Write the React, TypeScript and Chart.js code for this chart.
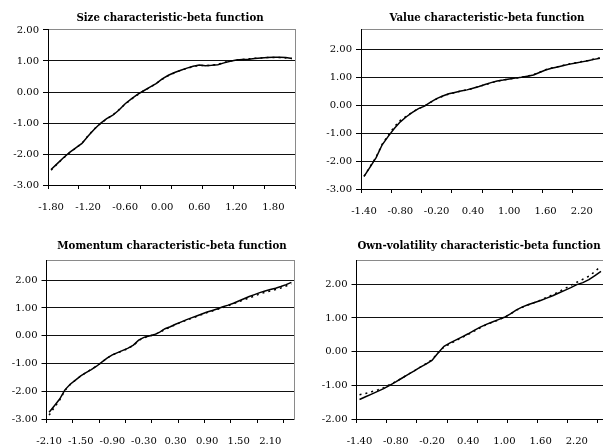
import { useEffect, useRef } from "react";
import { Chart, registerables } from "chart.js";

Chart.register(...registerables);

// ---------- data ----------
const sizeCategories = ["-1.80","-1.70","-1.60","-1.50","-1.40","-1.30","-1.20","-1.10","-1.00","-0.90","-0.80","-0.70","-0.60","-0.50","-0.40","-0.30","-0.20","-0.10","0.00","0.10","0.20","0.30","0.40","0.50","0.60","0.70","0.80","0.90","1.00","1.10","1.20","1.30","1.40","1.50","1.60","1.70","1.80","1.90","2.00","2.10"];
const sizeSolid = [-2.50,-2.31,-2.12,-1.95,-1.80,-1.66,-1.42,-1.20,-1.01,-0.86,-0.75,-0.58,-0.38,-0.22,-0.08,0.04,0.16,0.27,0.42,0.54,0.63,0.70,0.77,0.83,0.87,0.85,0.86,0.88,0.94,0.99,1.03,1.05,1.06,1.08,1.10,1.11,1.12,1.12,1.11,1.08];
const sizeDotted = [-2.52,-2.32,-2.13,-1.96,-1.81,-1.65,-1.41,-1.19,-1.02,-0.87,-0.74,-0.57,-0.39,-0.23,-0.09,0.04,0.15,0.27,0.41,0.53,0.62,0.70,0.76,0.82,0.86,0.85,0.86,0.89,0.95,1.00,1.03,1.05,1.07,1.09,1.10,1.11,1.11,1.11,1.10,1.08];

const valueCategories = ["-1.40","-1.30","-1.20","-1.10","-1.00","-0.90","-0.80","-0.70","-0.60","-0.50","-0.40","-0.30","-0.20","-0.10","0.00","0.10","0.20","0.30","0.40","0.50","0.60","0.70","0.80","0.90","1.00","1.10","1.20","1.30","1.40","1.50","1.60","1.70","1.80","1.90","2.00","2.10","2.20","2.30","2.40","2.50"];
const valueSolid = [-2.55,-2.22,-1.88,-1.42,-1.12,-0.84,-0.60,-0.42,-0.26,-0.13,-0.04,0.10,0.23,0.32,0.40,0.45,0.50,0.54,0.60,0.66,0.73,0.80,0.86,0.89,0.93,0.96,0.99,1.03,1.07,1.16,1.25,1.31,1.36,1.41,1.46,1.50,1.54,1.58,1.63,1.67];
const valueDotted = [-2.55,-2.20,-1.86,-1.40,-1.08,-0.78,-0.55,-0.40,-0.25,-0.13,-0.04,0.09,0.22,0.31,0.39,0.44,0.50,0.54,0.59,0.66,0.72,0.79,0.85,0.89,0.93,0.96,0.99,1.03,1.08,1.17,1.26,1.32,1.37,1.42,1.47,1.51,1.55,1.59,1.64,1.68];

const momentumCategories = ["-2.10","-2.00","-1.90","-1.80","-1.70","-1.60","-1.50","-1.40","-1.30","-1.20","-1.10","-1.00","-0.90","-0.80","-0.70","-0.60","-0.50","-0.40","-0.30","-0.20","-0.10","0.00","0.10","0.20","0.30","0.40","0.50","0.60","0.70","0.80","0.90","1.00","1.10","1.20","1.30","1.40","1.50","1.60","1.70","1.80","1.90","2.00","2.10","2.20","2.30","2.40","2.50"];
const momentumSolid = [-2.76,-2.52,-2.28,-1.95,-1.75,-1.60,-1.45,-1.33,-1.22,-1.10,-0.95,-0.81,-0.69,-0.61,-0.53,-0.45,-0.34,-0.16,-0.06,-0.01,0.04,0.13,0.25,0.32,0.41,0.49,0.57,0.64,0.71,0.78,0.85,0.91,0.97,1.04,1.10,1.17,1.25,1.33,1.41,1.48,1.55,1.61,1.66,1.71,1.77,1.84,1.92];
const momentumDotted = [-2.86,-2.58,-2.32,-1.97,-1.76,-1.60,-1.45,-1.33,-1.21,-1.09,-0.95,-0.81,-0.69,-0.62,-0.54,-0.46,-0.35,-0.18,-0.07,-0.02,0.04,0.12,0.23,0.31,0.40,0.48,0.55,0.62,0.69,0.76,0.83,0.89,0.95,1.01,1.08,1.15,1.22,1.29,1.36,1.43,1.50,1.56,1.61,1.66,1.72,1.79,1.86];

const volCategories = ["-1.40","-1.30","-1.20","-1.10","-1.00","-0.90","-0.80","-0.70","-0.60","-0.50","-0.40","-0.30","-0.20","-0.10","0.00","0.10","0.20","0.30","0.40","0.50","0.60","0.70","0.80","0.90","1.00","1.10","1.20","1.30","1.40","1.50","1.60","1.70","1.80","1.90","2.00","2.10","2.20","2.30","2.40","2.50","2.60"];
const volSolid = [-1.42,-1.34,-1.26,-1.18,-1.10,-1.00,-0.90,-0.79,-0.68,-0.58,-0.47,-0.37,-0.26,-0.04,0.16,0.26,0.35,0.44,0.53,0.63,0.73,0.81,0.88,0.95,1.02,1.12,1.24,1.33,1.40,1.46,1.52,1.59,1.66,1.74,1.82,1.90,1.99,2.05,2.14,2.26,2.38];
const volDotted = [-1.28,-1.24,-1.19,-1.14,-1.07,-0.98,-0.89,-0.79,-0.68,-0.58,-0.47,-0.36,-0.24,-0.04,0.14,0.23,0.33,0.42,0.51,0.61,0.71,0.80,0.87,0.94,1.02,1.12,1.23,1.32,1.39,1.46,1.53,1.61,1.69,1.78,1.87,1.97,2.06,2.15,2.24,2.38,2.54];

const yTicksFull = [-3, -2, -1, 0, 1, 2];
const yTicksVol = [-2, -1, 0, 1, 2];

// ---------- layout ----------
type Spec = {
  title: string;
  categories: string[];
  solid: number[];
  dotted: number[];
  yMin: number;
  yMax: number;
  yTicks: number[];
  left: number; top: number; h: number;
  plotL: number; plotR: number; plotT: number; plotB: number;
  titleC: number; titleCy: number;
};

const specs: Spec[] = [
  { title: "Size characteristic-beta function", categories: sizeCategories, solid: sizeSolid, dotted: sizeDotted,
    yMin: -3, yMax: 2, yTicks: yTicksFull,
    left: 0, top: 0, h: 220, plotL: 48, plotR: 295, plotT: 30, plotB: 185, titleC: 170, titleCy: 18.5 },
  { title: "Value characteristic-beta function", categories: valueCategories, solid: valueSolid, dotted: valueDotted,
    yMin: -3, yMax: 2.7, yTicks: yTicksFull,
    left: 300, top: 0, h: 220, plotL: 361, plotR: 603, plotT: 29.4, plotB: 189, titleC: 487, titleCy: 18.5 },
  { title: "Momentum characteristic-beta function", categories: momentumCategories, solid: momentumSolid, dotted: momentumDotted,
    yMin: -3, yMax: 2.7, yTicks: yTicksFull,
    left: 0, top: 220, h: 225, plotL: 46.5, plotR: 294, plotT: 260.7, plotB: 419, titleC: 172, titleCy: 246.5 },
  { title: "Own-volatility characteristic-beta function", categories: volCategories, solid: volSolid, dotted: volDotted,
    yMin: -2, yMax: 2.7, yTicks: yTicksVol,
    left: 300, top: 220, h: 225, plotL: 356.5, plotR: 604, plotT: 260.7, plotB: 419, titleC: 479, titleCy: 246.5 },
];

const TICK_FONT = { family: "'DejaVu Serif', serif", size: 10 };
const TITLE_FONT = { family: "'DejaVu Serif', serif", size: 10.2, weight: "bold" as const, lineHeight: 1.2 };

function Panel({ spec }: { spec: Spec }) {
  const ref = useRef<HTMLCanvasElement>(null);
  // canvas spans from the panel's left edge to a right edge chosen so that
  // the (full-width) title is centred at titleC
  const W = Math.round(2 * (spec.titleC - spec.left));
  useEffect(() => {
    const N = spec.categories.length;
    const yW = spec.plotL - spec.left;
    const yRW = spec.left + W - spec.plotR;
    const lh = TITLE_FONT.size * TITLE_FONT.lineHeight;
    const titleTop = spec.titleCy - spec.top - lh / 2;
    const titleBottom = spec.plotT - spec.top - titleTop - lh;
    const xH = spec.top + spec.h - spec.plotB;

    const chart = new Chart(ref.current!, {
      type: "line",
      data: {
        labels: spec.categories,
        datasets: [
          { data: spec.solid, borderColor: "#000", borderWidth: 1.5, pointRadius: 0, fill: false, tension: 0 },
          { data: spec.dotted, borderColor: "#000", borderWidth: 1.5, borderDash: [2, 4], pointRadius: 0, fill: false, tension: 0 },
        ],
      },
      options: {
        animation: false,
        responsive: false,
        maintainAspectRatio: false,
        events: [],
        layout: { padding: 0 },
        plugins: {
          legend: { display: false },
          tooltip: { enabled: false },
          title: {
            display: true,
            text: spec.title,
            color: "#000",
            font: TITLE_FONT,
            padding: { top: titleTop, bottom: titleBottom },
          },
        },
        scales: {
          x: {
            type: "category",
            position: "bottom",
            offset: true,
            grid: {
              offset: true,
              drawOnChartArea: false,
              drawTicks: true,
              tickLength: 4,
              tickWidth: 1,
              tickColor: (ctx: any) => {
                const i = ctx.index === undefined ? N : ctx.index;
                return i % 5 === 0 ? "#000" : "rgba(0,0,0,0)";
              },
            },
            border: { display: true, color: "#000", width: 1 },
            ticks: {
              autoSkip: false,
              maxRotation: 0,
              minRotation: 0,
              padding: 12,
              color: "#000",
              font: TICK_FONT,
              callback: (_v: any, i: number) => (i % 6 === 0 ? spec.categories[i] : ""),
            },
            afterFit: (s: any) => { s.height = xH; },
          },
          xTop: {
            type: "category",
            position: "top",
            offset: true,
            grid: { display: true, drawOnChartArea: false, drawTicks: false },
            ticks: { display: false },
            border: { display: true, color: "#8a8a8a", width: 1 },
            afterFit: (s: any) => { s.height = 0; },
          },
          y: {
            type: "linear",
            position: "left",
            min: spec.yMin,
            max: spec.yMax,
            afterBuildTicks: (s: any) => { s.ticks = spec.yTicks.map((v) => ({ value: v })); },
            grid: {
              color: (ctx: any) => (ctx.tick && ctx.tick.value === spec.yMax ? "#8a8a8a" : "#111"),
              lineWidth: 1,
              drawTicks: true,
              tickLength: 5,
              tickColor: "#000",
            },
            border: { display: true, color: "#000", width: 1 },
            ticks: {
              padding: 4,
              color: "#000",
              font: TICK_FONT,
              callback: (v: any) => Number(v).toFixed(2),
            },
            afterFit: (s: any) => { s.width = yW; },
          },
          yRight: {
            type: "linear",
            position: "right",
            grid: { display: true, drawOnChartArea: false, drawTicks: false },
            ticks: { display: false },
            border: { display: true, color: "#8a8a8a", width: 1 },
            afterFit: (s: any) => { s.width = yRW; },
          },
        },
      } as any,
    });
    return () => chart.destroy();
  }, [spec, W]);
  return (
    <canvas
      ref={ref}
      width={W}
      height={spec.h}
      style={{ position: "absolute", left: spec.left, top: spec.top, width: W, height: spec.h }}
    />
  );
}

export default function App() {
  return (
    <div style={{ position: "fixed", left: 0, top: 0, width: 603, height: 445, overflow: "hidden", background: "#fff" }}>
      {specs.map((s) => (
        <Panel key={s.title} spec={s} />
      ))}
    </div>
  );
}
